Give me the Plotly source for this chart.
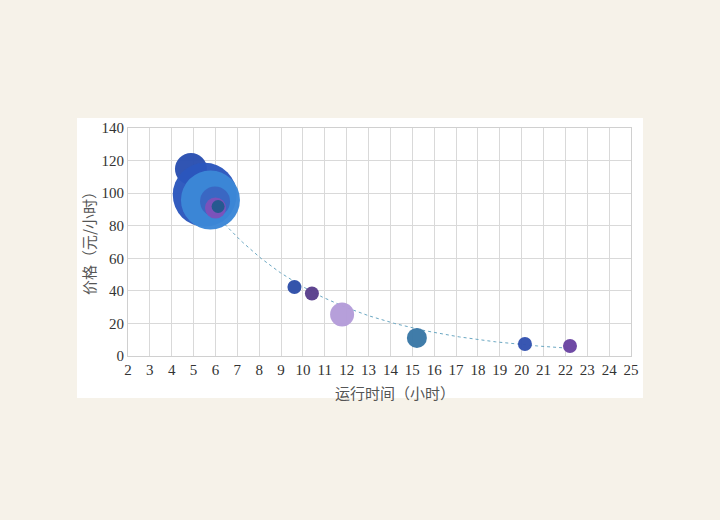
import numpy as np
import plotly.graph_objects as go

# ---- data ----
run_hours = [4.88, 5.51, 5.77, 5.98, 6.00, 6.12, 9.61, 10.41, 11.79, 15.21, 20.15, 22.21]
price_per_hour = [114.8, 99.0, 95.8, 94.9, 90.9, 91.8, 42.4, 38.4, 25.5, 11.1, 7.4, 6.1]
bubble_size = [32, 64, 59, 30, 21, 13, 14, 14, 24, 20, 14, 14]
bubble_color = ["#2a50b1", "#2b57bd", "#3c87d7", "#3a66c2", "#7d52ba", "#235a8e",
                "#2e4ea8", "#5a3f8c", "#b49cd9", "#3a78a6", "#3352b0", "#6a44a2"]
x_ticks = list(range(2, 26))
y_ticks = list(range(0, 141, 20))
x_title = "运行时间（小时）"
y_title = "价格（元/小时）"

# exponential trend line fitted to the data (like a spreadsheet trendline)
xs = np.array(run_hours)
ys = np.array(price_per_hour)
k, ln_a = np.polyfit(xs, np.log(ys), 1)
tx = np.linspace(xs.min(), xs.max(), 200)
ty = np.exp(ln_a) * np.exp(k * tx)

fig = go.Figure()
fig.add_trace(go.Scatter(x=tx, y=ty, mode="lines",
                         line=dict(color="#6aa7c2", width=1, dash="dot"),
                         hoverinfo="skip", showlegend=False))
fig.add_trace(go.Scatter(x=run_hours, y=price_per_hour, mode="markers",
                         marker=dict(size=bubble_size, sizemode="diameter", sizeref=1,
                                     color=bubble_color, opacity=0.97,
                                     line=dict(width=0)),
                         showlegend=False))

L, R, T, B = 128, 89, 128, 164
pw, ph = 720 - L - R, 520 - T - B

def px_x(p):
    return (p - L) / pw

def px_y(p):
    return (520 - B - p) / ph

fig.add_shape(type="rect", xref="paper", yref="paper",
              x0=px_x(77), x1=px_x(643), y0=px_y(398), y1=px_y(118),
              fillcolor="white", line=dict(width=0), layer="below")

axis_common = dict(showgrid=True, gridcolor="#d9d9d9", gridwidth=1,
                   showline=True, linecolor="#d0d0d0", linewidth=1, mirror=True,
                   zeroline=False, ticks="",
                   tickfont=dict(family="Liberation Serif", size=15, color="#333333"))

fig.update_xaxes(range=[2, 25], tickvals=x_ticks, ticktext=[str(v) for v in x_ticks],
                 **axis_common)
fig.update_yaxes(range=[0, 140], tickvals=y_ticks, ticktext=[str(v) for v in y_ticks],
                 **axis_common)

fig.add_annotation(text=x_title, xref="paper", yref="paper", x=px_x(395), y=px_y(392),
                   showarrow=False, xanchor="center", yanchor="middle",
                   font=dict(family="Noto Sans CJK SC", size=15, color="#555555"))
fig.add_annotation(text=y_title, xref="paper", yref="paper", x=px_x(88), y=px_y(240),
                   showarrow=False, xanchor="center", yanchor="middle", textangle=-90,
                   font=dict(family="Noto Sans CJK SC", size=15, color="#555555"))

fig.update_layout(width=720, height=520,
                  margin=dict(l=L, r=R, t=T, b=B),
                  paper_bgcolor="#f6f2e9", plot_bgcolor="white")

fig.write_html("out.html")
